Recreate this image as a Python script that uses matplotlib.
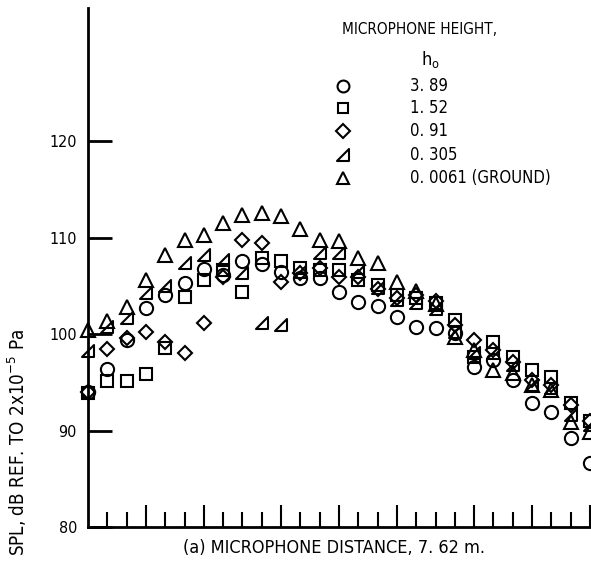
import matplotlib
matplotlib.use("Agg")
import matplotlib.pyplot as plt
from matplotlib.path import Path

plt.rcParams['font.family'] = ['DejaVu Sans']
plt.rcParams['font.stretch'] = 'condensed'

# Posiciones de medicion (columnas igualmente espaciadas)
posiciones = list(range(27))

# SPL por altura de microfono (dB)
spl_389 = [94.0, 96.4, 99.4, 102.7, 104.0, 105.3, 106.7, 106.1, 107.6, 107.3, 106.4, 105.8, 105.8, 104.4,
           103.3, 102.9, 101.8, 100.7, 100.6, 100.1, 96.6, 97.3, 95.2, 92.9, 91.9, 89.2, 86.6]
spl_152 = [93.9, 95.1, 95.1, 95.9, 98.6, 103.8, 105.6, 106.6, 104.4, 107.9, 107.6, 106.8, 106.6, 106.6,
           105.6, 105.1, 104.0, 103.7, 103.2, 101.5, 97.6, 99.2, 97.6, 96.3, 95.5, 92.9, 91.0]
spl_091 = [94.0, 98.5, 99.6, 100.2, 99.2, 98.0, 101.1, 105.9, 109.8, 109.4, 105.4, 106.3, 106.9, 105.9,
           105.9, 104.7, 103.7, 104.0, 103.4, 100.9, 99.4, 98.3, 97.1, 95.2, 94.7, 92.6, 91.0]
spl_0305 = [98.2, 100.7, 101.7, 104.3, 105.0, 107.4, 108.2, 107.7, 106.3, 101.1, 100.9, 106.4, 108.4, 108.4,
            106.4, 104.8, 103.5, 103.2, 102.6, 100.2, 98.0, 98.0, 96.8, 94.7, 94.4, 91.6, 90.6]
spl_suelo = [100.4, 101.4, 102.8, 105.6, 108.2, 109.7, 110.3, 111.5, 112.3, 112.5, 112.2, 110.9, 109.7, 109.6,
             107.9, 107.4, 105.4, 104.5, 103.1, 99.7, 98.3, 96.3, 96.0, 94.7, 94.2, 90.9, 89.8]

alturas = ['3. 89', '1. 52', '0. 91', '0. 305', '0. 0061 (GROUND)']
y_ticks = [80, 90, 100, 110, 120]

# marcador de medio triangulo
medio_tri = Path([(-1, -1), (1, -1), (1, 1), (-1, -1)],
                 [Path.MOVETO, Path.LINETO, Path.LINETO, Path.CLOSEPOLY])

estilos = [('o', 9.5), ('s', 8.5), ('D', 7.5), (medio_tri, 9), ('^', 10)]
series = [spl_389, spl_152, spl_091, spl_0305, spl_suelo]

fig = plt.figure(figsize=(5.91, 5.71), dpi=100)
ax = fig.add_axes([88 / 591, 44 / 571, 1 - 88 / 591, 519 / 571])

for valores, (m, ms) in zip(series, estilos):
    ax.plot(posiciones, valores, linestyle='none', marker=m, markersize=ms,
            markerfacecolor='none', markeredgecolor='black', markeredgewidth=1.5,
            clip_on=False)

ax.set_xlim(0, 26.05)
ax.set_ylim(80, 133.8)

for lado in ['top', 'right']:
    ax.spines[lado].set_visible(False)
for lado in ['left', 'bottom']:
    ax.spines[lado].set_linewidth(2)

ax.set_yticks(y_ticks)
ax.set_yticklabels([str(v) for v in y_ticks])
ax.tick_params(axis='y', direction='in', length=17, width=2, pad=8, labelsize=11.5)

# ticks del eje x: cortos y largos
largos = [3, 6, 10, 13, 16, 20, 23, 26]
ax.set_xticks([k for k in range(1, 27) if k not in largos])
ax.set_xticks(largos, minor=True)
ax.set_xticklabels([])
ax.tick_params(axis='x', which='major', direction='in', length=11, width=1.5, labelbottom=False)
ax.tick_params(axis='x', which='minor', direction='in', length=16, width=1.5, labelbottom=False)

fig.text(334 / 591, 1 - 548 / 571, '(a) MICROPHONE DISTANCE, 7. 62 m.', ha='center', va='center', fontsize=13)
fig.text(17 / 591, 1 - 443 / 571, 'SPL, dB REF. TO 2x10$^{-5}$ Pa', rotation=90, ha='center', va='center', fontsize=13.5)

# leyenda manual
fig.text(420 / 591, 1 - 30 / 571, 'MICROPHONE HEIGHT,', ha='center', va='center', fontsize=11)
fig.text(430 / 591, 1 - 60 / 571, '$\\mathregular{h_o}$', ha='center', va='center', fontsize=13)
filas_y = [86, 108, 131, 155, 178]
for (m, ms), etiqueta, fy in zip(estilos, alturas, filas_y):
    fig.add_artist(plt.Line2D([343 / 591], [1 - fy / 571], marker=m, markersize=ms * 0.9,
                              markerfacecolor='none', markeredgecolor='black', markeredgewidth=1.5,
                              linestyle='none', transform=fig.transFigure))
    fig.text(410 / 591, 1 - fy / 571, etiqueta, ha='left', va='center', fontsize=12)

fig.savefig('out.png', dpi=100)
